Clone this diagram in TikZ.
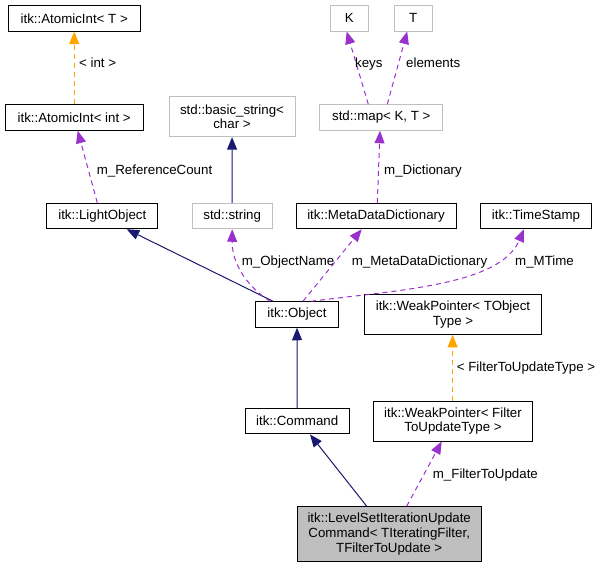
\documentclass[tikz,border=0pt]{standalone}
\usepackage{fontspec}
\setmainfont{Liberation Sans}
\usepackage{tikz}
\usetikzlibrary{arrows.meta}

\begin{document}
\begin{tikzpicture}[x=1pt,y=-1pt,
		font=\fontsize{13.3}{14.8}\selectfont,
		cls/.style={draw=black,line width=1pt,inner sep=0pt,align=center,minimum height=25.5pt},
		ext/.style={cls,draw=grayline},
		cur/.style={cls,fill=grayline},
		tip/.style={-{Triangle[length=12.5pt,width=10pt]}},
		inh/.style={tip,line width=1pt,color=navyedge},
		use/.style={tip,line width=1pt,color=purpleedge,dash pattern=on 5pt off 4pt},
		tpl/.style={use,color=orangeedge},
		lbl/.style={inner sep=0pt,anchor=base west}]
				\definecolor{navyedge}{RGB}{25,25,112}
				\definecolor{purpleedge}{RGB}{153,50,204}
				\definecolor{orangeedge}{RGB}{255,165,0}
				\definecolor{grayline}{RGB}{191,191,191}
				\useasboundingbox (0,0) rectangle (603,568);
				
				\node[cls,minimum width=131.7pt] (ait) at (74.2,18.3) {itk::AtomicInt< T >};
				\node[cls,minimum width=138.3pt] (aii) at (74.2,117.5) {itk::AtomicInt< int >};
				\node[cls,minimum width=110.7pt] (lo) at (102.3,216) {itk::LightObject};
				\node[ext,minimum width=126pt,minimum height=39.7pt] (bs) at (232,116.8) {std::basic\_string<\\char >};
				\node[ext,minimum width=80.3pt] (ss) at (232.2,216) {std::string};
				\node[ext,minimum width=38.3pt] (k) at (349.2,18.3) {K};
				\node[ext,minimum width=38.3pt] (t) at (413.2,18.3) {T};
				\node[ext,minimum width=122.7pt] (map) at (381.3,117.5) {std::map< K, T >};
				\node[cls,minimum width=160pt] (mdd) at (376,216) {itk::MetaDataDictionary};
				\node[cls,minimum width=111.4pt] (ts) at (536,216) {itk::TimeStamp};
				\node[cls,minimum width=82.6pt] (obj) at (297,314.5) {itk::Object};
				\node[cls,minimum width=177.4pt,minimum height=40pt] (wpt) at (453,314.3) {itk::WeakPointer< TObject\\Type >};
				\node[cls,minimum width=104.3pt] (cmd) at (297.2,421.2) {itk::Command};
				\node[cls,minimum width=159.4pt,minimum height=40pt] (wpf) at (453,421) {itk::WeakPointer< Filter\\ToUpdateType >};
				\node[cur,minimum width=183.7pt,minimum height=55pt] (ls) at (389.2,534.2) {itk::LevelSetIterationUpdate\\Command< TIteratingFilter,\\TFilterToUpdate >};
				
				\draw[tpl] (aii) -- (ait);
				\draw[use] ([xshift=-5pt]lo.north) -- ([xshift=3.5pt]aii.south);
				\draw[inh] (ss) -- (bs);
				\draw[use] ([xshift=-13pt]map.north) -- ([xshift=-2.5pt]k.south);
				\draw[use] ([xshift=6pt]map.north) -- ([xshift=-6pt]t.south);
				\draw[use] ([xshift=1.3pt]mdd.north) -- ([xshift=-1.3pt]map.south);
				\draw[inh] ([xshift=-24pt]obj.north) -- ([xshift=24.4pt]lo.south);
				\draw[use] ([xshift=-27pt]obj.north) .. controls (245,285) and (232,262) .. (ss.south);
				\draw[use] ([xshift=6pt]obj.north) -- ([xshift=-14.3pt]mdd.south);
				\draw[use] ([xshift=14pt]obj.north) .. controls (400,290) and (500,285) .. ([xshift=-12pt]ts.south);
				\draw[inh] (cmd) -- (obj);
				\draw[tpl] ([xshift=-0.4pt]wpf.north) -- ([xshift=-0.4pt]wpt.south);
				\draw[inh] ([xshift=-22.5pt]ls.north) -- ([xshift=12.8pt]cmd.south);
				\draw[use] ([xshift=17.5pt]ls.north) -- ([xshift=-11.3pt]wpf.south);
				
				\node[lbl] (lint) at (79,67) {< int >};
				\node[lbl] (lref) at (96.7,174.5) {m\_ReferenceCount};
				\node[lbl] (lkeys) at (355,67) {keys};
				\node[lbl] (lelem) at (406,67) {elements};
				\node[lbl] (ldict) at (384,174.5) {m\_Dictionary};
				\node[lbl] (lname) at (241.7,265.5) {m\_ObjectName};
				\node[lbl] (lmdd) at (351.7,265.5) {m\_MetaDataDictionary};
				\node[lbl] (lmtime) at (515,265.5) {m\_MTime};
				\node[lbl] (lftype) at (456.7,371.5) {< FilterToUpdateType >};
				\node[lbl] (lfilter) at (432.7,478) {m\_FilterToUpdate};
			\end{tikzpicture}
\end{document}
